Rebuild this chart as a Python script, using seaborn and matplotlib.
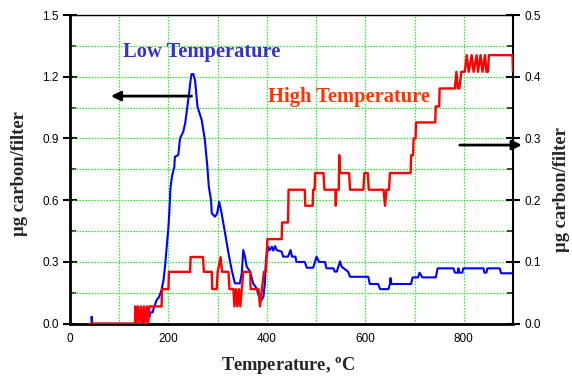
import matplotlib
matplotlib.use("Agg")
import matplotlib.pyplot as plt
import seaborn as sns
import numpy as np
import pandas as pd
from matplotlib.ticker import MultipleLocator, FormatStrFormatter

# ---- data ----
# Low temperature (left axis, ug carbon/filter)
low_T = [44, 44, 45, 149, 150, 162, 163, 168, 170, 176, 181, 186, 190, 193, 196.5, 200, 202, 203,
         204, 207, 212, 213, 220, 223.5, 230, 234, 238, 242, 245, 247, 250.5, 254, 259, 267.5, 274,
         279, 282, 286.5, 288, 294.6, 299, 303, 308, 315, 322, 328.5, 335, 345, 349, 352, 355.5,
         359, 366, 372, 379, 383, 389, 393, 396, 398, 403, 406, 410, 413, 416.5, 420, 430, 433,
         443, 448, 451, 458, 460, 477, 481, 494, 501, 506, 518, 521, 535, 538, 542, 548.6, 552,
         556, 565, 569, 606, 609, 626, 630, 647, 650, 651, 653, 693, 696, 707, 710, 716, 743, 747,
         779, 782, 788, 789, 791, 797, 799, 840, 842, 846, 848, 873, 876, 900]
low_val = [0, 0.034, 0, 0, 0.034, 0.034, 0.055, 0.055, 0.075, 0.115, 0.13, 0.164, 0.212, 0.277,
           0.374, 0.47, 0.552, 0.60, 0.658, 0.714, 0.763, 0.811, 0.82, 0.90, 0.933, 0.974, 1.047,
           1.12, 1.184, 1.213, 1.213, 1.184, 1.054, 0.99, 0.893, 0.763, 0.666, 0.60, 0.536, 0.52,
           0.536, 0.593, 0.536, 0.44, 0.342, 0.261, 0.196, 0.196, 0.245, 0.358, 0.326, 0.277,
           0.253, 0.196, 0.172, 0.139, 0.115, 0.131, 0.196, 0.31, 0.374, 0.358, 0.374, 0.355,
           0.377, 0.358, 0.35, 0.326, 0.326, 0.358, 0.326, 0.326, 0.30, 0.30, 0.272, 0.272, 0.326,
           0.30, 0.30, 0.269, 0.269, 0.253, 0.253, 0.303, 0.277, 0.269, 0.253, 0.228, 0.228, 0.193,
           0.193, 0.168, 0.168, 0.193, 0.222, 0.193, 0.193, 0.225, 0.225, 0.248, 0.225, 0.225,
           0.269, 0.269, 0.248, 0.248, 0.269, 0.248, 0.248, 0.269, 0.269, 0.248, 0.248, 0.269,
           0.269, 0.245, 0.245]

# High temperature (right axis, ug carbon/filter)
high_T = [40, 132, 133, 135, 138, 141, 144, 147, 150, 153, 156, 159, 161, 186, 187, 200, 201, 244,
          245, 270, 272, 288, 289, 298, 300, 306, 309, 322, 324, 332, 334, 337, 340, 343, 346, 349,
          352, 366, 367, 383, 386, 390, 394, 398, 401, 430, 431, 443, 444, 477, 478, 493, 494, 497,
          498, 515, 517, 539, 540, 541, 546, 547, 548, 567, 569, 596, 598, 605, 607, 637, 640, 643,
          648, 650, 692, 693, 697, 698, 702, 703, 742, 743, 750, 751, 782, 785, 788, 791, 795, 802,
          806, 810, 816, 820, 826, 829, 834, 838, 843, 846, 849, 851, 899, 900]
high_val = [0, 0, 0.028, 0, 0.028, 0, 0.028, 0, 0.028, 0, 0.028, 0, 0.028, 0.028, 0.056, 0.056,
            0.084, 0.084, 0.108, 0.108, 0.084, 0.084, 0.056, 0.056, 0.084, 0.108, 0.084, 0.084,
            0.056, 0.056, 0.028, 0.056, 0.028, 0.056, 0.028, 0.056, 0.084, 0.084, 0.056, 0.056,
            0.028, 0.056, 0.084, 0.084, 0.137, 0.137, 0.164, 0.164, 0.217, 0.217, 0.191, 0.191,
            0.217, 0.217, 0.244, 0.244, 0.217, 0.217, 0.191, 0.217, 0.217, 0.273, 0.244, 0.244,
            0.217, 0.217, 0.244, 0.244, 0.217, 0.217, 0.191, 0.217, 0.217, 0.244, 0.244, 0.273,
            0.273, 0.30, 0.30, 0.326, 0.326, 0.352, 0.352, 0.381, 0.381, 0.408, 0.381, 0.381,
            0.408, 0.408, 0.435, 0.408, 0.435, 0.408, 0.435, 0.408, 0.435, 0.408, 0.435, 0.408,
            0.408, 0.435, 0.435, 0.408]

x_ticks = [0, 200, 400, 600, 800]
left_ticks = [0.0, 0.3, 0.6, 0.9, 1.2, 1.5]
right_ticks = [0.0, 0.1, 0.2, 0.3, 0.4, 0.5]

x_label = "Temperature, $\\mathregular{^{o}}$C"
y_label = "\u00b5g carbon/filter"
low_text = "Low Temperature"
high_text = "High Temperature"

low_df = pd.DataFrame({"T": low_T, "v": low_val})
high_df = pd.DataFrame({"T": high_T, "v": high_val})

# ---- figure ----
sns.set_style("white")
plt.rcParams["font.family"] = ["Liberation Sans", "DejaVu Sans"]

fig = plt.figure(figsize=(5.72, 3.78), dpi=100)
ax = fig.add_axes([70 / 572, 1 - 323.7 / 378, 443 / 572, 308.7 / 378])
ax2 = ax.twinx()

grid_color = "#22ee22"
ax.set_axisbelow(True)

sns.lineplot(data=low_df, x="T", y="v", ax=ax, sort=False, estimator=None,
             color="#0000ff", lw=1.5, zorder=3)
sns.lineplot(data=high_df, x="T", y="v", ax=ax2, sort=False, estimator=None,
             color="#ff0000", lw=1.7, zorder=3)

ax.set_xlim(0, 900)
ax.set_ylim(0, 1.5)
ax2.set_ylim(0, 0.5)

ax.set_xticks(x_ticks)
ax.xaxis.set_minor_locator(MultipleLocator(100))
ax.set_yticks(left_ticks)
ax.yaxis.set_minor_locator(MultipleLocator(0.15))
ax.yaxis.set_major_formatter(FormatStrFormatter("%.1f"))
ax2.set_yticks(right_ticks)
ax2.yaxis.set_minor_locator(MultipleLocator(0.05))
ax2.yaxis.set_major_formatter(FormatStrFormatter("%.1f"))

ax.set_xlabel("")
ax.set_ylabel("")
ax2.set_ylabel("")

# grid at every 100 and every 0.15 (left)
for xv in np.arange(100, 900, 100):
    ax.axvline(xv, color=grid_color, lw=0.9, ls=(0, (1.2, 1.2)), zorder=1)
for yv in np.arange(0.15, 1.5, 0.15):
    ax.axhline(yv, color=grid_color, lw=0.9, ls=(0, (1.2, 1.2)), zorder=1)

for a in (ax, ax2):
    a.tick_params(which="major", direction="inout", length=10, width=1.5,
                  labelsize=8.5, pad=3, colors="black")
    a.tick_params(which="minor", direction="in", length=4.5, width=1.2)
    a.tick_params(axis="x", which="major", pad=2)

ax.tick_params(axis="y", which="both", right=False)
ax.tick_params(axis="x", which="both", top=False)

for s in ("left", "bottom"):
    ax.spines[s].set_linewidth(2)
ax.spines["top"].set_linewidth(1.0)
ax.spines["right"].set_visible(False)
for s in ("left", "bottom", "top"):
    ax2.spines[s].set_visible(False)
ax2.spines["right"].set_linewidth(1.5)
for s in ax.spines.values():
    s.set_color("black")
ax2.spines["right"].set_color("black")

serif = ["Liberation Serif", "DejaVu Serif"]

ax.text(267.6, 1.32, low_text, color="#3333cc", fontsize=14.8, fontweight="bold",
        family=serif, ha="center", va="center", zorder=5)
ax.text(566, 1.10, high_text, color="#ff3300", fontsize=14.8, fontweight="bold",
        family=serif, ha="center", va="center", zorder=5)

ax.annotate("", xy=(83, 1.106), xytext=(247, 1.106),
            arrowprops=dict(arrowstyle="-|>", lw=2, color="black", mutation_scale=14,
                            shrinkA=0, shrinkB=0), zorder=6)
ax.annotate("", xy=(918, 0.868), xytext=(792, 0.868), annotation_clip=False,
            arrowprops=dict(arrowstyle="-|>", lw=2, color="black", mutation_scale=14,
                            shrinkA=0, shrinkB=0), zorder=6)

fig.text(288 / 572, 1 - 365 / 378, x_label, fontsize=13.2, fontweight="bold",
         family=serif, ha="center", va="center")
fig.text(20 / 572, 1 - 174 / 378, y_label, fontsize=13.4, fontweight="bold",
         family=serif, ha="center", va="center", rotation=90)
fig.text(562 / 572, 1 - 190 / 378, y_label, fontsize=13.4, fontweight="bold",
         family=serif, ha="center", va="center", rotation=90)

fig.savefig("out.png", dpi=100)
